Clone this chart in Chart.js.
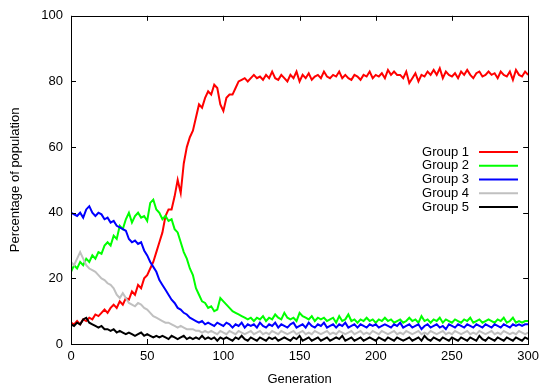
<!DOCTYPE html>
<html>
<head>
<meta charset="utf-8">
<script src="https://cdn.jsdelivr.net/npm/chart.js@4/dist/chart.umd.min.js"></script>
<style>
  html, body { margin: 0; padding: 0; background: #fff; }
  #wrap { width: 544px; height: 390px; position: relative; }
</style>
</head>
<body>
<div id="wrap"><canvas id="chart"></canvas></div>
<script>
// one sample every 2 generations, 0 .. 300
const generations = Array.from( { length: 151 }, ( _, i ) => i * 2 );

const groupNames = [ 'Group 1', 'Group 2', 'Group 3', 'Group 4', 'Group 5' ];
const groupColors = [ '#ff0000', '#00ff00', '#0000ff', '#c0c0c0', '#000000' ];

const group1 = [
	6.5, 6, 7, 6, 7.5, 7, 8, 7.5, 9, 8.5,
	9.5, 10.5, 9.5, 11, 12, 11, 13, 12, 14, 13.5,
	16, 15, 18, 17, 20, 21, 23, 25, 28, 31,
	34, 39, 41, 41, 45, 50, 46, 55, 60, 63,
	65, 69, 73, 72, 75, 77, 76, 79, 78, 73,
	71, 75, 76, 76, 78, 80, 80.5, 81, 80, 81,
	82, 81, 81.5, 80.5, 82, 81, 83, 81, 80.5, 82,
	81, 80, 82, 81, 83, 80, 82, 81, 82.5, 80.5,
	81.5, 82, 81, 83, 81.5, 81, 82, 81.5, 83, 81,
	82, 81, 80.5, 82, 81.5, 80.5, 82, 81.5, 83, 81,
	82, 81.5, 82.5, 81, 83.5, 82, 83, 82, 82, 81,
	83, 79.5, 81, 82.5, 80, 82, 81.5, 83, 82, 83.5,
	82, 84, 81, 83, 82, 81.5, 82.5, 81, 83, 82,
	83.5, 82, 81, 82.5, 83, 81.5, 82, 83, 82, 82.5,
	81, 83, 82, 81.5, 83, 80.5, 83.5, 82, 81.5, 83,
	82,
];

const group2 = [
	22, 24, 23, 25, 24, 26, 25, 27, 26, 28,
	27.5, 30, 31, 30, 33, 32, 36, 35, 38, 40,
	37, 39, 40, 38.5, 39, 37.5, 43, 44, 41, 40,
	38, 39, 37.5, 38, 35, 34, 31, 28, 26, 23,
	21, 17, 15, 13, 12.5, 11, 11.5, 10, 10.5, 14,
	13, 12, 11, 10, 9.5, 9, 8.5, 8, 7.5, 8,
	7, 8, 7.5, 8.5, 7, 8, 7.5, 9, 8, 7.5,
	9.5, 8, 7.5, 8, 7, 9.5, 8.5, 8, 7.5, 8.5,
	7, 8, 7.5, 8, 7, 7.5, 8, 6.5, 8.5, 7,
	7.5, 9, 7, 7.5, 6.5, 7.5, 7, 8, 7, 7.5,
	6.5, 7.5, 7, 8, 7, 7.5, 6.5, 7, 7.5, 6.5,
	7, 8, 7, 7.5, 6.5, 8.5, 7, 7.5, 6.5, 7.5,
	7, 8, 6.5, 7.5, 7, 6.5, 7.5, 7, 6.5, 7.5,
	7, 8, 6.5, 7, 7.5, 6.5, 7, 7.5, 7, 6.5,
	7.5, 7, 8, 6.5, 7, 8, 6.5, 7, 6.5, 7,
	7,
];

const group3 = [
	40, 39.5, 39, 40, 38.5, 41, 42, 40, 39, 40,
	39.5, 38, 38.5, 37, 37.5, 36, 35.5, 35, 34.5, 32,
	31, 31.5, 30.5, 31, 28.5, 27, 25, 23.5, 22, 19.5,
	18, 16.5, 15, 13.5, 12.5, 11, 10.5, 9.5, 9, 8,
	7.5, 7, 6.5, 7, 6, 6.5, 6, 5.5, 6.5, 6,
	5.5, 6.5, 6, 5, 6, 5.5, 6.5, 5, 6, 5.5,
	6, 5, 6.5, 5.5, 5, 6, 5.5, 6.5, 5, 6,
	5.5, 5, 6, 6.5, 5, 5.5, 6, 5, 6.5, 5.5,
	5, 6, 5.5, 6.5, 5, 5.5, 6, 5, 6, 5.5,
	6.5, 5, 5.5, 6, 5, 6, 5.5, 5, 6, 5.5,
	6, 5, 5.5, 6, 5.5, 5, 6, 5.5, 6.5, 5,
	5.5, 6, 5, 5.5, 6, 4.5, 5.5, 6, 5, 5.5,
	6, 5, 5.5, 4.5, 6, 5.5, 5, 6, 5.5, 5,
	6, 5.5, 5, 6, 5.5, 5, 6, 5.5, 5, 6,
	5.5, 5, 6, 5.5, 5, 6, 5.5, 6, 5.5, 6,
	6,
];

const group4 = [
	25, 24, 26, 28, 26, 24, 23, 22.5, 22, 21,
	20, 19.5, 18.5, 18, 17, 15, 14, 15.5, 14, 12.5,
	12, 11.5, 12.5, 12, 11, 10.5, 9.5, 8.5, 8, 7.5,
	7, 6.5, 6.5, 6, 5.5, 5, 5.5, 5, 4.5, 4.5,
	4.5, 4, 4, 3.5, 4, 3.5, 4, 3.5, 3, 4,
	3.5, 3, 4, 3.5, 3, 4, 3.5, 3, 3.5, 4,
	3, 3.5, 4, 3, 3.5, 3, 4, 3.5, 3, 4,
	3.5, 3, 3.5, 4, 3, 3.5, 4, 3, 3.5, 3,
	4, 3.5, 3, 3.5, 4, 3, 3.5, 3, 4, 3.5,
	3, 3.5, 4, 3, 3.5, 4, 3, 3.5, 3, 4,
	3.5, 3, 4, 3.5, 3, 3.5, 4, 3, 3.5, 3,
	4, 3.5, 3, 3.5, 4, 3, 3.5, 3, 4, 3.5,
	3, 3.5, 4, 3, 3.5, 3, 4, 3.5, 3, 3.5,
	4, 3, 3.5, 3, 4, 3.5, 3, 3.5, 4, 3,
	3.5, 3, 4, 3.5, 3, 3.5, 3, 4, 3.5, 3,
	3.5,
];

const group5 = [
	6, 5.5, 6.5, 6, 7.5, 8, 6.5, 6, 5.5, 5,
	5.5, 4.5, 4.5, 4, 4.5, 3.5, 4, 3.5, 3, 3.5,
	3, 2.5, 3, 3.5, 2.5, 3, 2.5, 2, 2.5, 2,
	2.5, 2, 1.5, 2.5, 2, 1.5, 2, 2.5, 1.5, 2,
	1.5, 2, 1.5, 2.5, 1.5, 2, 1.5, 2, 1, 2,
	1.5, 2, 1.5, 1, 2, 1.5, 2.5, 1.5, 1, 2,
	1.5, 1, 2, 1.5, 1, 2, 1.5, 2, 1, 1.5,
	2, 1.5, 1, 2, 1.5, 2.5, 1, 1.5, 2, 1,
	1.5, 2, 1, 1.5, 2, 1, 1.5, 2, 1.5, 2.5,
	1, 1.5, 2, 1, 1.5, 2, 1, 1.5, 2, 1.5,
	1, 2, 1.5, 1, 2, 1.5, 1, 2, 1.5, 1,
	1.5, 2, 1, 1.5, 2, 1, 2.5, 1.5, 1, 2,
	1.5, 1, 2, 1.5, 1, 2, 1.5, 1, 2, 1.5,
	1, 2, 1.5, 1, 2.5, 1.5, 1, 2, 1.5, 1,
	2, 1.5, 1, 2, 1.5, 1, 2, 1.5, 1, 2,
	1.5,
];

const xTicks = [ 0, 50, 100, 150, 200, 250, 300 ];
const yTicks = [ 0, 20, 40, 60, 80, 100 ];

const fontFamily = '"Liberation Sans", Arial, Helvetica, sans-serif';

// gnuplot style: box border with inward ticks on all four sides
const frameTicks = {
	id: 'frameTicks',
	afterDatasetsDraw( chart ) {
		const { ctx, chartArea: a, scales: { x, y } } = chart;
		const len = 5;
		ctx.save();
		ctx.strokeStyle = '#000';
		ctx.lineWidth = 1;
		ctx.beginPath();
		x.ticks.forEach( t => {
			const px = Math.round( x.getPixelForValue( t.value ) ) + 0.5;
			ctx.moveTo( px, a.bottom );
			ctx.lineTo( px, a.bottom - len );
			ctx.moveTo( px, a.top );
			ctx.lineTo( px, a.top + len );
		} );
		y.ticks.forEach( t => {
			const py = Math.round( y.getPixelForValue( t.value ) ) + 0.5;
			ctx.moveTo( a.left, py );
			ctx.lineTo( a.left + len, py );
			ctx.moveTo( a.right, py );
			ctx.lineTo( a.right - len, py );
		} );
		ctx.stroke();
		ctx.strokeRect( Math.round( a.left ) + 0.5, Math.round( a.top ) + 0.5, Math.round( a.width ), Math.round( a.height ) );
		ctx.restore();
	},
};

// key inside the plot: label right-aligned, then a line sample
const insideKey = {
	id: 'insideKey',
	afterDraw( chart ) {
		const { ctx } = chart;
		ctx.save();
		ctx.font = '13px ' + fontFamily;
		ctx.textAlign = 'right';
		ctx.textBaseline = 'middle';
		chart.data.datasets.forEach( ( ds, i ) => {
			const rowY = 152 + i * 13.75;
			ctx.fillStyle = '#000';
			ctx.fillText( ds.label, 469, rowY );
			ctx.strokeStyle = ds.borderColor;
			ctx.lineWidth = 2;
			ctx.beginPath();
			ctx.moveTo( 479, rowY );
			ctx.lineTo( 518, rowY );
			ctx.stroke();
		} );
		ctx.restore();
	},
};

const seriesValues = [ group1, group2, group3, group4, group5 ];

new Chart( document.getElementById( 'chart' ), {
	type: 'line',
	data: {
		datasets: seriesValues.map( ( vals, i ) => ( {
			label: groupNames[ i ],
			data: vals.map( ( v, j ) => ( { x: generations[ j ], y: v } ) ),
			borderColor: groupColors[ i ],
			backgroundColor: groupColors[ i ],
			borderWidth: 2,
			pointRadius: 0,
			tension: 0,
			order: 5 - i, // later groups on top, like gnuplot
		} ) ),
	},
	options: {
		responsive: true,
		maintainAspectRatio: false,
		animation: false,
		layout: { padding: { top: 13, right: 11, left: 0, bottom: 0 } },
		plugins: {
			legend: { display: false },
			tooltip: { enabled: false },
		},
		scales: {
			x: {
				type: 'linear',
				min: 0,
				max: 300,
				afterFit: s => { s.height = 46; },
				afterBuildTicks: s => { s.ticks = xTicks.map( v => ( { value: v } ) ); },
				grid: { display: false, drawTicks: false },
				border: { display: false },
				ticks: { color: '#000', padding: 5, maxRotation: 0, font: { family: fontFamily, size: 13 } },
				title: { display: true, text: 'Generation', color: '#000', padding: { top: 0, bottom: 3 }, font: { family: fontFamily, size: 13 } },
			},
			y: {
				min: 0,
				max: 100,
				afterFit: s => { s.width = 71; },
				afterBuildTicks: s => { s.ticks = yTicks.map( v => ( { value: v } ) ); },
				grid: { display: false, drawTicks: false },
				border: { display: false },
				ticks: { color: '#000', padding: 8, font: { family: fontFamily, size: 13 } },
				title: { display: true, text: 'Percentage of population', color: '#000', padding: { top: 8, bottom: 0 }, font: { family: fontFamily, size: 13 } },
			},
		},
	},
	plugins: [ frameTicks, insideKey ],
} );
</script>
</body>
</html>
